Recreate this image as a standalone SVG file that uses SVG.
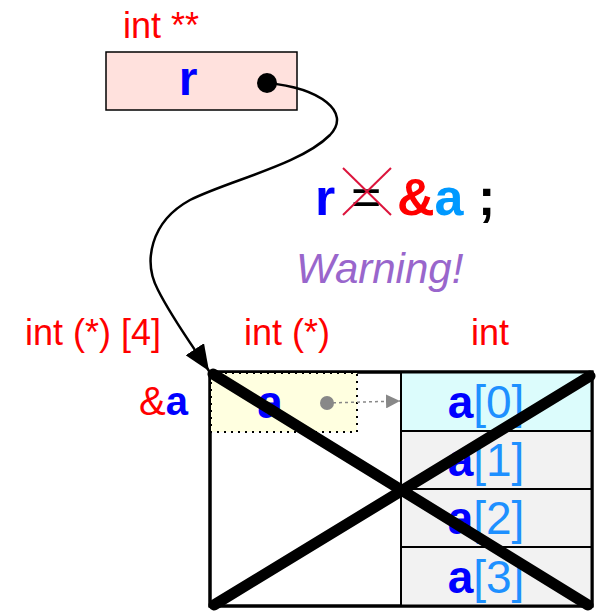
<svg xmlns="http://www.w3.org/2000/svg" width="603" height="616" viewBox="0 0 603 616">
<defs>
<style>
.t{font-family:"Liberation Sans",Arial,sans-serif}
.red{fill:#ff0000}
.blue{fill:#0000ff;font-weight:bold}
.lb{fill:#1e90ff}
</style>
<marker id="ah" viewBox="0 0 26 22" refX="26" refY="11" markerWidth="26" markerHeight="22" orient="auto" markerUnits="userSpaceOnUse">
<path d="M0,0 L26,11 L0,22 z" fill="#000"/>
</marker>
<marker id="gah" viewBox="0 0 10 10" refX="10" refY="5" markerWidth="14" markerHeight="14" orient="auto" markerUnits="userSpaceOnUse">
<path d="M0,0 L10,5 L0,10 z" fill="#888"/>
</marker>
</defs>
<rect width="603" height="616" fill="#fff"/>

<g id="r-node">
<text class="t red" x="123" y="38" font-size="36">int **</text>
<rect x="106" y="52" width="191" height="58" fill="#ffe1dd" stroke="#000" stroke-width="1.5"/>
<text class="t blue" x="188" y="95" font-size="48" text-anchor="middle">r</text>
<circle cx="267" cy="83" r="10" fill="#000"/>
</g>

<g id="statement">
<text class="t" x="315" y="215" font-size="52" font-weight="bold"><tspan fill="#0000ff">r</tspan></text>
<text class="t" x="351" y="215" font-size="52" fill="#000">=</text>
<line x1="343" y1="168" x2="391" y2="215" stroke="#dc143c" stroke-width="2"/>
<line x1="391" y1="168" x2="343" y2="215" stroke="#dc143c" stroke-width="2"/>
<text class="t" x="397" y="215" font-size="52" font-weight="bold"><tspan fill="#ff0000">&amp;</tspan><tspan fill="#0099ff">a</tspan></text>
<text class="t" x="478" y="215" font-size="52" font-weight="bold" fill="#000">;</text>
<text class="t" x="296" y="283" font-size="42" font-style="italic" fill="#9966cc">Warning!</text>
</g>

<g id="labels">
<text class="t red" x="25" y="345" font-size="36">int (*) [4]</text>
<text class="t red" x="244" y="345" font-size="36">int (*)</text>
<text class="t red" x="471" y="345" font-size="36">int</text>
<text class="t" x="139" y="415" font-size="40"><tspan fill="#ff0000">&amp;</tspan><tspan fill="#0000ff" font-weight="bold">a</tspan></text>
</g>

<g id="array-a">
<rect x="210" y="372" width="382" height="234" fill="#fff" stroke="#000" stroke-width="3"/>
<rect x="401" y="372" width="191" height="59" fill="#dcfcfc" stroke="#000" stroke-width="2"/>
<rect x="401" y="431" width="191" height="58" fill="#f2f2f2" stroke="#000" stroke-width="2"/>
<rect x="401" y="489" width="191" height="58" fill="#f2f2f2" stroke="#000" stroke-width="2"/>
<rect x="401" y="547" width="191" height="59" fill="#f2f2f2" stroke="#000" stroke-width="2"/>
<rect x="210" y="372" width="382" height="234" fill="none" stroke="#000" stroke-width="3"/>
<text class="t" x="486" y="418" font-size="46" text-anchor="middle"><tspan class="blue">a</tspan><tspan class="lb">[0]</tspan></text>
<text class="t" x="486" y="476" font-size="46" text-anchor="middle"><tspan class="blue">a</tspan><tspan class="lb">[1]</tspan></text>
<text class="t" x="486" y="534" font-size="46" text-anchor="middle"><tspan class="blue">a</tspan><tspan class="lb">[2]</tspan></text>
<text class="t" x="486" y="593" font-size="46" text-anchor="middle"><tspan class="blue">a</tspan><tspan class="lb">[3]</tspan></text>
</g>

<g id="a-ptr">
<rect x="211" y="373" width="146" height="59" fill="#ffffe0" stroke="#000" stroke-width="2" stroke-dasharray="2,5"/>
<text class="t blue" x="270" y="418" font-size="46" text-anchor="middle">a</text>
<circle cx="327" cy="403" r="7" fill="#888"/>
</g>

<g id="connectors">
<path d="M267,83 C320,88 352,112 330,135 C300,165 230,180 190,200 C150,222 143,262 158,290 C172,318 192,345 209,371" fill="none" stroke="#000" stroke-width="2.5" marker-end="url(#ah)"/>
<line x1="327" y1="403" x2="400" y2="401" stroke="#888" stroke-width="1.5" stroke-dasharray="3,3" marker-end="url(#gah)"/>
</g>

<g id="cross">
<line x1="213" y1="374" x2="588" y2="605" stroke="#000" stroke-width="11" stroke-linecap="round"/>
<line x1="590" y1="376" x2="214" y2="605" stroke="#000" stroke-width="11" stroke-linecap="round"/>
</g>
</svg>
